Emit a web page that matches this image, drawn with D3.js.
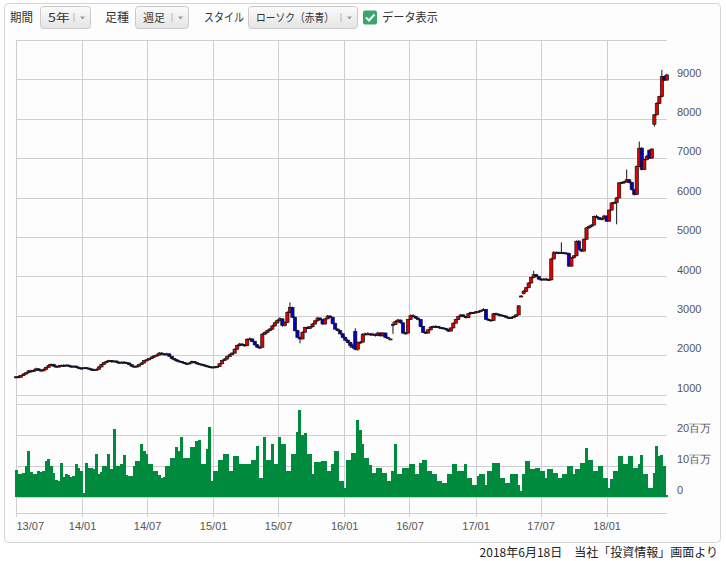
<!DOCTYPE html>
<html><head><meta charset="utf-8">
<script src="https://cdn.jsdelivr.net/npm/d3@7"></script>
<style>
body{margin:0;background:#fff;}
svg{display:block;font-family:"Noto Sans CJK JP","Noto Sans",sans-serif;}
</style></head><body>
<svg id="c" width="726" height="561"></svg>
<script>
// ---------- data ----------
const firstWeek = "2013-07-01";
const xTickDates = ["2013-07-01","2014-01-01","2014-07-01","2015-01-01","2015-07-01","2016-01-01","2016-07-01","2017-01-01","2017-07-01","2018-01-01"];
const priceTicks = [1000,2000,3000,4000,5000,6000,7000,8000,9000];
const priceGrid = [1000,2000,3000,4000,5000,6000,7000,8000,9000,10000];
const volTicks = [0,10,20];
const volTickLabels = ["0","10百万","20百万"];
const volGrid = [0,10,20,30];
const toolbarLabels = ["期間","足種","スタイル"];
const toolbarValues = ["5年","週足","ローソク（赤青）"];
const checkLabel = "データ表示";
const footerText = "2018年6月18日　当社「投資情報」画面より";

const open = [1430,1450,1440,1480,1520,1550,1600,1580,1610,1650,
1620,1600,1640,1690,1740,1760,1720,1700,1720,1740,
1730,1745,1720,1700,1720,1690,1670,1660,1680,1670,
1650,1620,1630,1640,1700,1760,1810,1840,1860,1830,
1850,1820,1800,1820,1810,1800,1760,1720,1700,1720,
1760,1800,1860,1880,1910,1950,1980,2000,2050,2030,
2010,2030,1970,1910,1880,1850,1840,1810,1790,1780,
1800,1840,1810,1780,1770,1750,1730,1710,1700,1690,
1700,1710,1780,1860,1900,1960,2010,2050,2150,2240,
2280,2260,2240,2400,2410,2350,2260,2200,2200,2530,
2570,2620,2660,2740,2820,2880,2920,2750,2830,3080,
3210,2960,2620,2450,2410,2580,2700,2680,2720,2790,
2870,2940,2900,2790,2920,2990,2960,2800,2660,2620,
2540,2450,2380,2320,2240,2600,2150,2320,2330,2520,
2540,2540,2520,2530,2500,2560,2490,2560,2450,2410,
2760,2780,2850,2890,2820,2560,2560,2900,3000,2980,
2940,2900,2730,2580,2560,2640,2710,2730,2730,2700,
2690,2680,2650,2610,2690,2810,2900,2980,3020,2980,
2950,3050,3080,3070,3100,3110,3130,3160,2910,2890,
2880,3050,3040,3020,3010,2990,2960,2940,2950,2980,
3020,3500,3560,3620,3710,3830,3970,4040,4000,3930,
3910,3930,3920,3910,4440,4600,4610,4580,4600,4590,
4580,4260,4470,4520,4890,4680,4640,4940,5230,5270,
5300,5520,5490,5450,5460,5530,5400,5680,5860,5870,
5990,6370,6380,6400,6450,6380,6200,6080,6790,7250,
6710,6960,7200,7000,7860,8100,8390,8560,9070,8980];
const high = [1470,1480,1500,1540,1570,1620,1630,1640,1680,1670,
1640,1660,1710,1770,1790,1780,1740,1750,1760,1770,
1770,1760,1740,1740,1730,1710,1690,1700,1700,1680,
1660,1650,1660,1720,1780,1830,1860,1880,1870,1870,
1860,1840,1840,1850,1830,1810,1780,1730,1740,1780,
1820,1880,1900,1930,1970,2000,2030,2080,2080,2050,
2060,2040,1980,1930,1900,1870,1850,1820,1810,1820,
1860,1850,1820,1800,1780,1770,1740,1730,1710,1720,
1730,1800,1880,1920,1980,2030,2070,2170,2270,2310,
2300,2280,2430,2450,2420,2360,2280,2230,2560,2600,
2650,2690,2770,2850,2910,2960,2930,2860,3110,3340,
3230,2980,2640,2470,2600,2720,2730,2740,2810,2890,
2960,2950,2910,2940,3020,3010,2970,2820,2680,2640,
2560,2470,2400,2340,2290,2680,2340,2360,2560,2570,
2580,2560,2570,2550,2590,2580,2580,2570,2470,2420,
2840,2880,2920,2900,2830,2590,2920,3030,3040,3000,
2950,2910,2740,2600,2660,2730,2750,2760,2740,2720,
2710,2690,2670,2700,2830,2920,3000,3040,3030,2990,
3070,3100,3090,3120,3130,3150,3190,3170,2930,2900,
3070,3080,3060,3040,3020,3000,2970,2970,3000,3040,
3270,3520,3650,3730,3850,3990,4140,4060,4010,3950,
3950,3960,3940,4470,4640,4630,4620,4860,4620,4610,
4600,4490,4540,4910,4920,4700,4960,5250,5290,5320,
5540,5560,5510,5490,5560,5540,5700,5880,5900,6010,
6390,6400,6420,6710,6470,6400,6210,6810,7420,7280,
6980,7080,7220,7250,8120,8420,8580,9240,9100,9140];
const low = [1410,1420,1430,1470,1500,1540,1560,1570,1600,1600,
1580,1590,1630,1680,1720,1700,1680,1690,1700,1710,
1720,1700,1680,1690,1670,1650,1640,1650,1650,1630,
1600,1600,1610,1630,1690,1750,1790,1820,1810,1820,
1800,1780,1790,1790,1780,1740,1700,1680,1690,1710,
1750,1790,1840,1870,1900,1930,1970,1990,2010,1990,
2000,1950,1890,1860,1830,1820,1790,1770,1760,1770,
1790,1790,1760,1750,1730,1710,1690,1680,1660,1680,
1690,1700,1770,1850,1890,1950,2000,2040,2140,2220,
2230,2210,2230,2380,2330,2240,2180,2170,2190,2510,
2550,2600,2640,2720,2800,2860,2720,2730,2820,3060,
2940,2600,2430,2300,2400,2570,2660,2660,2700,2780,
2850,2880,2770,2780,2910,2940,2780,2640,2600,2520,
2430,2360,2300,2180,2160,2120,2110,2290,2320,2500,
2510,2490,2500,2470,2480,2470,2470,2430,2420,2400,
2540,2770,2830,2800,2540,2530,2550,2890,2960,2920,
2880,2710,2560,2540,2550,2630,2690,2700,2680,2670,
2660,2630,2590,2600,2680,2800,2890,2960,2960,2930,
2940,3030,3050,3060,3080,3090,3120,2890,2870,2860,
2870,3020,3000,2990,2970,2940,2920,2920,2940,2970,
3010,3470,3540,3600,3700,3820,3950,3980,3910,3890,
3900,3900,3890,3900,4430,4570,4560,4570,4570,4560,
4240,4240,4450,4510,4660,4620,4630,4930,5200,5240,
5290,5470,5430,5430,5450,5380,5390,5670,5830,5320,
5980,6340,6350,6380,6360,6180,6050,6060,6770,6690,
6700,6940,6980,6990,7800,8080,8370,8540,8960,8970];
const close = [1450,1440,1480,1520,1550,1600,1580,1610,1650,1620,
1600,1640,1690,1740,1760,1720,1700,1720,1740,1730,
1745,1720,1700,1720,1690,1670,1660,1680,1670,1650,
1620,1630,1640,1700,1760,1810,1840,1860,1830,1850,
1820,1800,1820,1810,1800,1760,1720,1700,1720,1760,
1800,1860,1880,1910,1950,1980,2000,2050,2030,2010,
2030,1970,1910,1880,1850,1840,1810,1790,1780,1800,
1840,1810,1780,1770,1750,1730,1710,1700,1690,1700,
1710,1780,1860,1900,1960,2010,2050,2150,2240,2280,
2260,2240,2400,2410,2350,2260,2200,2200,2530,2570,
2620,2660,2740,2820,2880,2920,2750,2830,3080,3210,
2960,2620,2450,2410,2580,2700,2680,2720,2790,2870,
2940,2900,2790,2920,2990,2960,2800,2660,2620,2540,
2450,2380,2320,2240,2200,2150,2320,2330,2520,2540,
2540,2520,2530,2500,2560,2490,2560,2450,2440,2410,
2780,2850,2890,2820,2560,2560,2900,3000,2980,2940,
2900,2730,2580,2560,2640,2710,2730,2730,2700,2690,
2680,2650,2610,2690,2810,2900,2980,3020,2980,2950,
3050,3080,3070,3100,3110,3130,3160,2910,2890,2880,
3050,3040,3020,3010,2990,2960,2940,2950,2980,3020,
3250,3500,3620,3710,3830,3970,4040,4000,3930,3910,
3930,3920,3910,4440,4600,4610,4580,4600,4590,4580,
4260,4470,4520,4890,4680,4640,4940,5230,5270,5300,
5520,5490,5450,5460,5530,5400,5680,5860,5870,5990,
6370,6380,6400,6450,6380,6200,6080,6790,7250,6710,
6960,7040,7000,7230,8100,8390,8560,9070,8980,9110];
// weekly volume, millions of shares
const volume = [8.6,7.3,7.5,7.8,10,15,8,7.3,7.5,8.4,
8.2,8.5,11.6,12.1,10,7.8,5.5,5.2,11,6.5,
7.3,7,6.5,6.8,10.5,9.5,8.4,1.4,10.9,9.5,
9.5,9,14,7.5,8,10,10,14,9,22,
10,10,10.5,13.5,7,6.8,6.8,10,11.6,11.5,
17,14.8,14,10.5,10.5,8.4,8.4,7,6.2,6.5,
10,10,12.7,12.7,16,15,19.5,12.7,12.5,12.7,
16,16,18,18.5,10.5,10.5,15.4,22.5,5.2,8.4,
8.4,12,12,13.8,13.8,8.4,8.4,13.2,13.2,10.5,
10.7,10.7,10.5,10.5,12,12,16.5,6.2,6.2,19.5,
11.8,11.8,17,10.5,10.5,19.5,17,17,8.4,8.4,
13.8,13.8,21,28,20,20.5,13.8,13.8,7.3,11.4,
11.4,11.4,11.6,11.6,8.4,8.4,10.5,14.8,14.8,5.2,
5.2,3,11.8,11.8,14.3,14.3,25,21.5,17,12.7,
12.7,10.2,7.8,7.8,9.5,9.5,7.8,7.8,5.2,5.2,
8.4,17.2,7.3,7.3,9.5,9.5,9.5,10.5,10.5,7.3,
7.3,11,11.8,11.8,8.4,8.4,7.3,7.3,5.2,5.2,
4.6,4.6,7.3,7.3,10.5,10.5,8.4,8.4,8.4,10.7,
6.2,6.2,4,4,6.8,7.3,7.3,4,8.4,8.4,
11,11,11,6.2,6.2,4.6,4.6,7.3,7.3,7.3,
4,1.9,7.3,11.6,11.6,8.9,8.9,9.5,9.5,8.4,
8.4,6.2,8.9,8.9,7.8,7.8,6.2,6.2,7.3,7.3,
10,10,7.3,8.9,8.9,11,11,15.7,12,12,
8.4,8.4,10,10,6.2,6.2,3,5.8,8.4,8.4,
13.2,13.2,10.5,10.5,13.2,13.2,9.5,9.5,10.5,13.5,
7.3,7.3,3,3,7.8,16.5,13.2,13.5,10,0.8];

// ---------- layout ----------
const svg = d3.select("#c");
const parse = d3.timeParse("%Y-%m-%d");
const t0 = parse(firstWeek);
const weeks = close.map((c,i)=>({
  d: d3.timeDay.offset(t0, 7*i), o: open[i], h: high[i], l: low[i], c: c, v: volume[i]
}));
const L = 16, R = 668;
const x = d3.scaleTime().domain([t0, parse("2018-06-21")]).range([L, R]);
const y = d3.scaleLinear().domain([1000, 9000]).range([394.5, 79.3]);
const yv = d3.scaleLinear().domain([0, 20]).range([497, 435]);
const gridColor = "#cfcfcf";

// outer panel
svg.append("rect").attr("x",4.5).attr("y",3.5).attr("width",716).attr("height",539)
  .attr("rx",4).attr("fill","#fdfdfd").attr("stroke","#d4d4d4");

// toolbar
const defs = svg.append("defs");
const grad = defs.append("linearGradient").attr("id","btn").attr("x1",0).attr("x2",0).attr("y1",0).attr("y2",1);
grad.append("stop").attr("offset","0%").attr("stop-color","#fbfbfb");
grad.append("stop").attr("offset","100%").attr("stop-color","#e4e4e4");
const tb = svg.append("g").attr("font-size",12).attr("fill","#333");
const lblX = [10, 105, 204];
const lblW = [23, 24, 40];
const boxes = [[40.5,50,22],[135.5,53,22],[248.5,109,78]];
toolbarLabels.forEach((t,i)=>{
  tb.append("text").attr("x",lblX[i]).attr("y",21.5)
    .attr("textLength",lblW[i]).attr("lengthAdjust","spacingAndGlyphs").text(t);
  const [bx,bw,tw] = boxes[i];
  tb.append("rect").attr("x",bx).attr("y",6.5).attr("width",bw).attr("height",22).attr("rx",3)
    .attr("fill","url(#btn)").attr("stroke","#cacaca");
  tb.append("text").attr("x",bx+7.5).attr("y",21.5).attr("font-size",11.5)
    .attr("textLength",tw).attr("lengthAdjust","spacingAndGlyphs").text(toolbarValues[i]);
  tb.append("line").attr("x1",bx+bw-16.5).attr("x2",bx+bw-16.5).attr("y1",13).attr("y2",22)
    .attr("stroke","#b8b8b8");
  tb.append("path").attr("d",`M${bx+bw-10.5},16.5 l5,0 l-2.5,3 z`).attr("fill","#999");
});
tb.append("rect").attr("x",363).attr("y",10.5).attr("width",14).attr("height",14).attr("rx",2)
  .attr("fill","#3aa56b");
tb.append("path").attr("d","M366,17.5 l3,3 l5.5,-6").attr("fill","none").attr("stroke","#fff").attr("stroke-width",2);
tb.append("text").attr("x",382).attr("y",21.5)
  .attr("textLength",56).attr("lengthAdjust","spacingAndGlyphs").text(checkLabel);

// grid
const g = svg.append("g");
g.selectAll(".hp").data(priceGrid).join("line")
  .attr("x1",L).attr("x2",667).attr("y1",d=>Math.round(y(d))+0.5).attr("y2",d=>Math.round(y(d))+0.5)
  .attr("stroke",gridColor);
g.selectAll(".hv").data(volGrid).join("line")
  .attr("x1",L).attr("x2",667).attr("y1",d=>Math.round(yv(d))+0.5).attr("y2",d=>Math.round(yv(d))+0.5)
  .attr("stroke",gridColor);
const ticks = xTickDates.map(parse);
g.selectAll(".vx").data(ticks).join("line")
  .attr("x1",d=>Math.round(x(d))+0.5).attr("x2",d=>Math.round(x(d))+0.5)
  .attr("y1",40).attr("y2",517).attr("stroke",gridColor);

// bottom axis
const xa = svg.append("g").attr("transform",`translate(0,${Math.round(yv(-5))+0.5})`)
  .call(d3.axisBottom(x).tickValues(ticks).tickFormat(d3.timeFormat("%y/%m")).tickSize(0).tickPadding(9));
xa.select(".domain").attr("stroke",gridColor).attr("d",`M${L},0H667`);
xa.selectAll("text").attr("fill","#555").attr("font-size",11).attr("font-family","inherit");
xa.selectAll(".tick").filter((d,i)=>i===0).select("text").attr("text-anchor","start");

// right price axis
const ya = svg.append("g").attr("transform","translate(675,0)")
  .call(d3.axisRight(y).tickValues(priceTicks).tickFormat(d3.format("d")).tickSize(0).tickPadding(2));
ya.select(".domain").remove();
ya.selectAll("text").attr("fill","#555").attr("font-size",11).attr("font-family","inherit").attr("dy","-0.3em");

const va = svg.append("g").attr("transform","translate(675,0)")
  .call(d3.axisRight(yv).tickValues(volTicks).tickFormat((d,i)=>volTickLabels[i]).tickSize(0).tickPadding(2));
va.select(".domain").remove();
va.selectAll("text").attr("fill","#555").attr("font-size",11).attr("font-family","inherit").attr("dy","-0.3em");

// volume bars
svg.append("g").attr("shape-rendering","crispEdges").selectAll("rect").data(weeks).join("rect")
  .attr("x",d=>x(d.d)-1.5).attr("width",3)
  .attr("y",d=>yv(d.v)).attr("height",d=>yv(0)-yv(d.v))
  .attr("fill","#008a3e");

// candles
const cg = svg.append("g");
cg.selectAll("line").data(weeks).join("line")
  .attr("x1",d=>x(d.d)).attr("x2",d=>x(d.d))
  .attr("y1",d=>y(d.h)).attr("y2",d=>y(d.l))
  .attr("stroke","#111").attr("stroke-width",1);
cg.selectAll("rect").data(weeks).join("rect")
  .attr("x",d=>x(d.d)-1.6).attr("width",3.2)
  .attr("y",d=>y(Math.max(d.o,d.c)))
  .attr("height",d=>Math.max(1, Math.abs(y(d.o)-y(d.c))))
  .attr("fill",d=>d.c>=d.o ? "#e00000" : "#0000c8")
  .attr("stroke","#111").attr("stroke-width",0.7);

// footer
svg.append("text").attr("x",718).attr("y",557).attr("text-anchor","end")
  .attr("font-size",12).attr("fill","#222").text(footerText);
</script>
</body></html>
